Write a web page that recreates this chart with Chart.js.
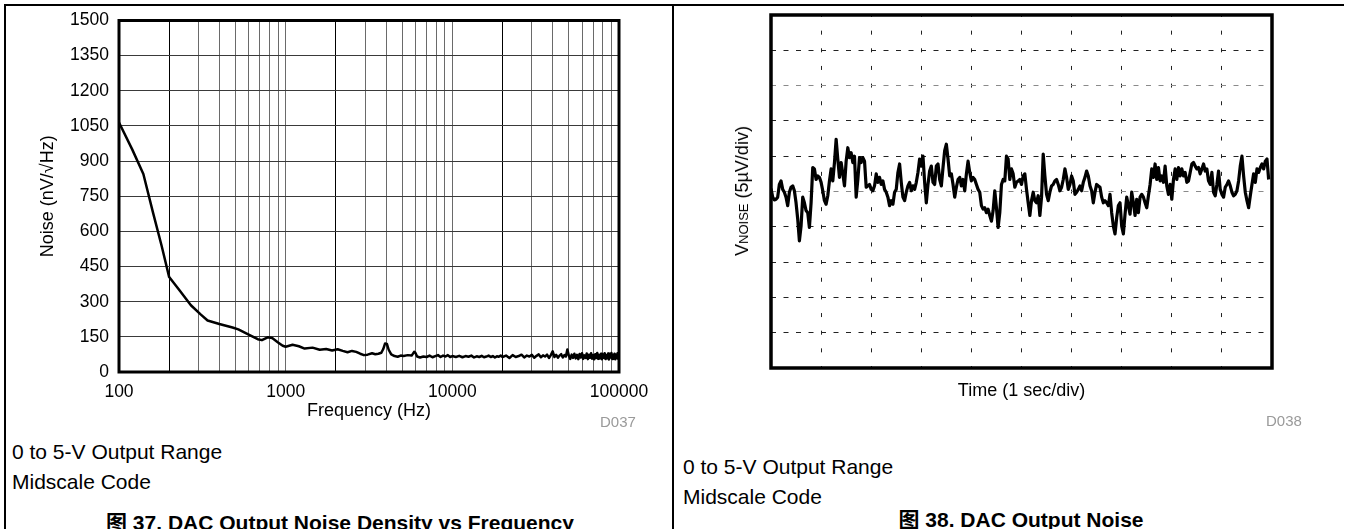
<!DOCTYPE html>
<html><head><meta charset="utf-8">
<script src="https://cdn.jsdelivr.net/npm/chart.js@4.4.0/dist/chart.umd.min.js"></script>
<style>
html,body{margin:0;padding:0;background:#fff;}
body{width:1349px;height:529px;position:relative;overflow:hidden;font-family:"Liberation Sans",Arial,"Noto Sans CJK SC",sans-serif;color:#000;}
.abs{position:absolute;white-space:nowrap;line-height:1;}
canvas{position:absolute;top:0;}
.note{font-size:21px;}
.cap{font-size:21px;font-weight:bold;}
.code{font-size:15px;color:#9a9a9a;}
</style></head><body>
<div class="abs" style="left:4px;top:4px;width:1340px;height:0;border-top:2px solid #000"></div>
<div class="abs" style="left:4px;top:4px;width:0;height:530px;border-left:2px solid #000"></div>
<div class="abs" style="left:672px;top:4px;width:0;height:530px;border-left:2px solid #000"></div>

<canvas id="c1" width="680" height="430" style="left:0"></canvas>
<canvas id="c2" width="669" height="430" style="left:680px"></canvas>

<div class="abs code" style="left:600px;top:414px;">D037</div>
<div class="abs note" style="left:12px;top:441px;">0 to 5-V Output Range</div>
<div class="abs note" style="left:12px;top:471px;">Midscale Code</div>
<div class="abs cap" style="left:340px;top:512px;transform:translateX(-50%);">图 37. DAC Output Noise Density vs Frequency</div>

<div class="abs" style="left:742px;top:191px;font-size:18px;transform:translate(-50%,-50%) rotate(-90deg);">V<span style="font-size:13px">NOISE</span> (5µV/div)</div>
<div class="abs code" style="left:1266px;top:413px;">D038</div>
<div class="abs note" style="left:683px;top:456px;">0 to 5-V Output Range</div>
<div class="abs note" style="left:683px;top:486px;">Midscale Code</div>
<div class="abs cap" style="left:1021px;top:509px;transform:translateX(-50%);">图 38. DAC Output Noise</div>

<script>
// ---------- Figure 37: noise density vs frequency ----------
const freqHz = [100,120,140,160,180,200,230,270,310,340,400,480,520,600,680,720,780,830,900,960,
  1000,1100,1200,1300,1450,1600,1750,1900,2050,2200,2350,2500,2650,2800,2950,3100,3300,3450,3600,3750,
  3850,3950,4050,4150,4300,4500,4700,4900,5100,5400,5700,5900,6000,6150,6400,6700,7000,7300,7600,7900,
  8200,8500,8800,9100,9400,9700,10000,
  10500,11000,11500,12000,12500,13000,13500,14000,14500,15000,15500,16000,16500,17000,17500,18000,18500,19000,19500,20000,
  21000,22000,23000,24000,25000,26000,27000,28000,29000,30000,31000,32000,33000,34000,35000,36000,37000,38000,39000,40000,
  41000,42000,43000,44000,45000,46000,47000,48000,49000,50000,
  51000,52000,53000,54000,55000,56000,57000,58000,59000,60000,61000,62000,63000,64000,65000,66000,67000,68000,69000,70000,
  71000,72000,73000,74000,75000,76000,77000,78000,79000,80000,81000,82000,83000,84000,85000,86000,87000,88000,89000,90000,
  91000,92000,93000,94000,95000,96000,97000,98000,99000,100000];
const noiseDensity = [1065,950,845,680,540,405,350,285,245,220,205,190,182,160,140,136,148,145,126,112,
  108,116,110,100,104,95,98,92,97,90,84,90,86,78,72,74,80,76,78,82,
  98,122,120,95,75,68,65,70,68,72,70,86,82,66,62,66,64,70,63,68,
  72,64,70,66,72,64,68,
  64,69,63,68,65,70,62,67,64,69,63,66,70,64,68,62,67,65,70,64,
  70,60,72,64,68,74,62,70,66,73,61,69,75,63,71,66,74,60,72,88,
  64,73,61,70,76,62,72,66,96,70,
  56,74,60,78,58,73,55,77,62,80,56,71,60,79,55,74,61,80,57,72,
  54,76,60,81,56,73,58,78,54,75,61,80,55,72,59,79,53,75,62,81,
  56,73,58,78,54,74,60,80,56,70];
const freqGridTicks = [100,200,300,400,500,600,700,800,900,1000,2000,3000,4000,5000,6000,7000,8000,9000,
  10000,20000,30000,40000,50000,60000,70000,80000,90000,100000];
const freqTickLabels = [100,1000,10000,100000];
const densityTicks = {min:0, max:1500, step:150};

// ---------- Figure 38: output noise vs time (µV, 5 µV/div) ----------
const SAMPLE_DT = 10/300; // seconds between samples
const noiseUV = [
  0.4,-0.8,-1.2,-1.1,-0.8,1.0,1.5,0.3,-0.1,-0.8,
  -2.0,-0.1,0.6,0.8,0.1,-1.6,-3.9,-7.0,-4.9,-0.8,
  -1.6,-2.7,-3.0,-5.1,-1.6,3.4,3.2,1.7,2.2,2.0,
  1.3,0.1,-1.3,-1.8,-0.6,1.5,3.2,1.5,4.1,7.4,
  4.6,2.0,4.1,2.5,0.8,4.3,6.2,4.8,5.5,4.1,
  5.0,-0.8,1.7,4.8,4.1,4.8,4.3,0.6,0.8,1.0,
  0.3,0.1,0.8,2.5,1.3,2.0,1.0,1.5,0.3,-0.1,
  -0.8,-2.0,-1.3,-1.8,-0.1,0.3,2.7,3.9,1.3,-0.8,
  -1.3,-0.1,0.8,1.3,0.1,0.8,0.3,1.3,2.7,4.6,
  3.6,5.0,1.3,-1.6,1.0,2.9,3.6,1.3,1.0,3.6,
  3.9,
  1.7,0.8,3.4,5.8,6.7,4.6,2.2,2.5,1.0,-0.8,
  0.6,1.7,2.0,0.8,1.7,0.1,2.5,4.3,2.7,1.5,
  2.0,1.7,1.0,0.3,-0.1,-2.0,-2.5,-2.3,-3.0,-2.5,
  -3.4,-4.2,-2.7,0.1,-2.3,-5.1,-3.0,1.0,1.7,1.5,
  5.0,4.6,1.7,3.2,2.5,0.6,1.3,1.5,1.7,1.0,
  2.2,2.5,0.3,-1.6,-3.4,-1.3,-0.1,-1.3,-1.6,-0.6,
  -3.4,-0.8,5.3,2.2,-0.4,-1.3,-0.1,0.8,1.0,1.5,
  1.7,1.0,0.1,0.6,1.7,3.2,2.0,0.3,1.0,2.2,
  1.5,-0.4,-0.1,0.3,0.8,0.1,1.3,2.0,2.9,2.2,
  0.8,0.1,-1.6,-0.1,1.0,0.8,0.6,-0.8,-1.6,-1.3,
  -1.6,-2.0,-0.4,-3.0,-4.9,-6.0,-3.7,-2.0,-1.6,-4.9,
  -6.0,-3.2,-0.8,-2.0,-3.2,-0.1,-1.6,-3.4,-1.1,-3.0,
  -0.8,-0.4,-0.8,-1.6,-2.3,-0.6,1.0,3.2,2.0,3.9,
  1.7,3.4,1.5,2.2,1.3,3.6,0.8,-0.4,1.0,-1.1,
  1.7,3.2,1.7,3.4,2.2,3.2,2.2,2.7,1.3,1.5,
  2.7,3.9,4.1,3.6,3.2,3.4,2.5,3.2,3.9,2.9,
  3.2,1.5,1.0,2.7,-0.1,-0.6,1.0,2.9,0.3,-0.4,
  -0.8,0.6,1.0,1.5,0.8,-0.1,-0.6,-0.4,0.1,1.5,
  3.6,5.0,2.2,-0.1,-1.3,-2.3,-0.6,1.0,2.5,1.3,
  3.2,2.7,3.4,3.9,3.2,4.3,4.6,1.7];
const timeAxis = {min:0, max:10, step:1};      // 1 s/div
const voltAxis = {min:-25, max:25, step:5};    // 5 µV/div

const FONT = "'Liberation Sans', Arial, sans-serif";

const frame = {
  id:'frame',
  afterDraw(chart, args, opts){
    const {ctx, chartArea:a} = chart;
    ctx.save();
    ctx.strokeStyle = '#000';
    ctx.lineWidth = opts.width || 3;
    ctx.strokeRect(a.left, a.top, a.right - a.left, a.bottom - a.top);
    ctx.restore();
  }
};

new Chart(document.getElementById('c1'), {
  type:'line',
  data:{datasets:[{
    data: freqHz.map((f,i)=>({x:f, y:noiseDensity[i]})),
    borderColor:'#000', borderWidth:2.5, pointRadius:0, tension:0, fill:false,
    borderJoinStyle:'round'
  }]},
  options:{
    responsive:false, animation:false, devicePixelRatio:1,
    layout:{padding:{top:19, right:61, left:0, bottom:0}},
    plugins:{legend:{display:false}, tooltip:{enabled:false}, frame:{width:3}},
    scales:{
      x:{
        type:'logarithmic', min:100, max:100000,
        afterBuildTicks: s => { s.ticks = freqGridTicks.map(v => ({value:v})); },
        afterFit: s => { s.height = 58; },
        ticks:{autoSkip:false, maxRotation:0, minRotation:0, padding:10, color:'#000',
          font:{family:FONT, size:17.5},
          callback: v => freqTickLabels.includes(v) ? String(v) : ''},
        grid:{drawTicks:false, lineWidth:1,
          color: c => {
            const v = c.tick ? c.tick.value : 0;
            const m = v / Math.pow(10, Math.floor(Math.log10(v) + 1e-9));
            return Math.abs(m - 2) < 1e-6 ? '#000' : '#6a6a6a';
          }},
        border:{display:false},
        title:{display:true, text:'Frequency (Hz)', color:'#000', font:{family:FONT, size:18}, padding:{top:0, bottom:8}}
      },
      y:{
        min:densityTicks.min, max:densityTicks.max,
        afterFit: s => { s.width = 119; },
        ticks:{stepSize:densityTicks.step, padding:10, color:'#000', font:{family:FONT, size:17.5},
          callback: v => String(v)},
        grid:{drawTicks:false, color:'#3a3a3a', lineWidth:1},
        border:{display:false},
        title:{display:true, text:'Noise (nV/√Hz)', color:'#000', font:{family:FONT, size:18}, padding:{top:37, bottom:0}}
      }
    }
  },
  plugins:[frame]
});

new Chart(document.getElementById('c2'), {
  type:'line',
  data:{datasets:[{
    data: noiseUV.map((v,i)=>({x:i*SAMPLE_DT, y:v})),
    borderColor:'#000', borderWidth:3.2, pointRadius:0, tension:0, fill:false,
    borderJoinStyle:'round'
  }]},
  options:{
    responsive:false, animation:false, devicePixelRatio:1,
    layout:{padding:{top:15, right:77, left:0, bottom:0}},
    plugins:{legend:{display:false}, tooltip:{enabled:false}, frame:{width:3.5}},
    scales:{
      x:{
        type:'linear', min:timeAxis.min, max:timeAxis.max,
        afterFit: s => { s.height = 62; },
        ticks:{display:false, stepSize:timeAxis.step},
        grid:{drawTicks:false, color:'#222', lineWidth:1},
        border:{display:false, dash:[4, 13.65], dashOffset:2},
        title:{display:true, text:'Time (1 sec/div)', color:'#000', font:{family:FONT, size:18}, padding:{top:0, bottom:28}}
      },
      y:{
        min:voltAxis.min, max:voltAxis.max,
        afterFit: s => { s.width = 91; },
        ticks:{display:false, stepSize:voltAxis.step},
        grid:{drawTicks:false, lineWidth:1,
          color: c => (c.tick && (c.tick.value === 15 || c.tick.value === 0)) ? '#8a8a8a' : '#222'},
        border:{display:false, dash:[5, 7.5], dashOffset:0}
      }
    }
  },
  plugins:[frame]
});
</script>
</body></html>
